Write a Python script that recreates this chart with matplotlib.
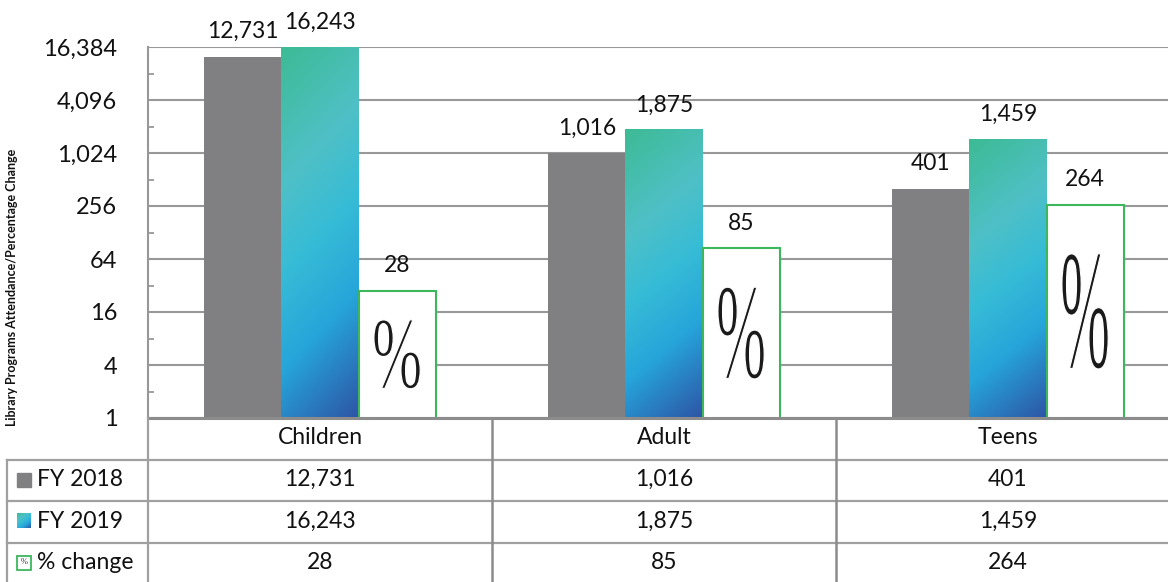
import numpy as np
import matplotlib
matplotlib.use("Agg")
import matplotlib.pyplot as plt
from matplotlib.patches import Rectangle
from matplotlib.lines import Line2D
from matplotlib.image import BboxImage
from matplotlib.transforms import TransformedBbox, Bbox, Affine2D, blended_transform_factory
from matplotlib.colors import LinearSegmentedColormap, Normalize
from matplotlib import patheffects
from matplotlib.ticker import FixedLocator, FuncFormatter

# ---------------- data ----------------
categories = ["Children", "Adult", "Teens"]
fy2018 = [12731, 1016, 401]
fy2019 = [16243, 1875, 1459]
pct_change = [28, 85, 264]
series_names = ["FY 2018", "FY 2019", "% change"]
y_ticks = [1, 4, 16, 64, 256, 1024, 4096, 16384]
y_minor = [2, 8, 32, 128, 512, 2048, 8192]
y_label = "Library Programs Attendance/Percentage Change"

# ---------------- style ----------------
FONT = "Lato"
plt.rcParams["font.family"] = [FONT, "DejaVu Sans"]
GRAY = "#808083"
GREEN = "#3db75c"
GRID = "#989898"
AXC = "#8c8c8c"
TXT = "#111111"
FS = 16.5
grad_cmap = LinearSegmentedColormap.from_list(
    "g", [(0.0, "#3dbb95"), (0.3, "#4fc0c6"), (0.5, "#37bcd6"),
          (0.72, "#26a5da"), (1.0, "#2d55a6")])

W, H = 1168, 582
fig = plt.figure(figsize=(W / 100, H / 100), dpi=100)
fig.patch.set_facecolor("white")


def fx(x):
    return x / W


def fy(y):
    return 1 - y / H


ax = fig.add_axes([fx(148), fy(418), fx(1180) - fx(148), fy(47) - fy(418)])
ax.set_yscale("log", base=2)
ax.set_ylim(1, 16384)
ax.set_xlim(-0.5, 2.5)
ax.set_axisbelow(True)
YMIN = ax.get_ylim()[0]

bw = 0.224
x = np.arange(len(categories))
b1 = ax.bar(x - bw, fy2018, bw, color=GRAY, zorder=2)
b2 = ax.bar(x, fy2019, bw, color="none", zorder=2)
b3 = ax.bar(x + bw, pct_change, bw, color="white", edgecolor=GREEN,
            linewidth=1.5, zorder=3)


def visible_bbox(p):
    """Bar extent in data coords, clipped at the log axis floor."""
    return Bbox.from_extents(p.get_x(), YMIN, p.get_x() + p.get_width(),
                             p.get_y() + p.get_height())


# gradient fill for FY 2019
nv, nu = 200, 40
vv, uu = np.mgrid[0:1:nv * 1j, 0:1:nu * 1j]
grad = 0.82 * vv + 0.18 * uu
for p in b2.patches:
    bb = TransformedBbox(visible_bbox(p), ax.transData)
    im = BboxImage(bb, cmap=grad_cmap, norm=Normalize(0, 1), origin="upper",
                   interpolation="bilinear", zorder=2)
    im.set_data(grad)
    im.set_clip_path(p)
    ax.add_artist(im)


# stretched, thin "%" glyph inside the %-change bars
class FitToBar(patheffects.AbstractPathEffect):
    def __init__(self, tbbox, wfrac=0.6, hfrac=0.54, thin=0.8):
        super().__init__()
        self.tbbox = tbbox
        self.wfrac = wfrac
        self.hfrac = hfrac
        self.thin = thin

    def draw_path(self, renderer, gc, tpath, affine, rgbFace=None):
        pb = self.tbbox
        gb = tpath.get_extents(affine)
        tw = pb.width * self.wfrac
        th = pb.height * self.hfrac
        cx = (pb.x0 + pb.x1) / 2
        cy = (pb.y0 + pb.y1) / 2
        tr = affine + Affine2D().translate(-(gb.x0 + gb.x1) / 2, -(gb.y0 + gb.y1) / 2) \
            .scale(tw / gb.width, th / gb.height).translate(cx, cy)
        renderer.draw_path(gc, tpath, tr, rgbFace)
        gc2 = renderer.new_gc()
        gc2.copy_properties(gc)
        gc2.set_foreground("white")
        gc2.set_linewidth(self.thin)
        renderer.draw_path(gc2, tpath, tr, None)
        gc2.restore()


for xi, v, p in zip(x, pct_change, b3.patches):
    tb = TransformedBbox(visible_bbox(p), ax.transData)
    ax.text(xi + bw, np.sqrt(v), "%", family="Liberation Serif", fontsize=40,
            ha="center", va="center", color="#1a1a1a", zorder=4,
            path_effects=[FitToBar(tb)])

# data labels
for cont, vals in ((b1, fy2018), (b2, fy2019), (b3, pct_change)):
    for p, v in zip(cont.patches, vals):
        ax.annotate(f"{v:,}", (p.get_x() + p.get_width() / 2, v),
                    xytext=(0, 25), textcoords="offset pixels",
                    ha="center", va="center", fontsize=FS, color=TXT,
                    annotation_clip=False, zorder=5)

# axes styling
ax.yaxis.set_major_locator(FixedLocator(y_ticks))
ax.yaxis.set_minor_locator(FixedLocator(y_minor))
ax.yaxis.set_major_formatter(FuncFormatter(lambda v, _: f"{int(round(v)):,}"))
ax.yaxis.set_minor_formatter(FuncFormatter(lambda v, _: ""))
ax.tick_params(axis="y", which="major", length=0, pad=22, labelsize=FS + 0.5,
               labelcolor=TXT)
ax.tick_params(axis="y", which="minor", direction="in", length=4, width=1.3,
               color=GRID)
ax.set_xticks([])
ax.grid(axis="y", which="major", color=GRID, linewidth=1.5)
for s in ("top", "right"):
    ax.spines[s].set_visible(False)
ax.spines["left"].set_color(GRID)
ax.spines["left"].set_linewidth(1.5)
ax.spines["bottom"].set_color(AXC)
ax.spines["bottom"].set_linewidth(2.2)
ax.spines["bottom"].set_zorder(6)

fig.text(fx(12), fy(287), y_label, rotation=90, ha="center", va="center",
         fontsize=9, fontweight="bold", color=TXT)

# ---------------- data table ----------------
bt = blended_transform_factory(ax.transData, fig.transFigure)
row_tops = [418, 460, 501, 543, 584]
lc = "#a0a0a0"
for yy in row_tops[1:4]:
    fig.add_artist(Line2D([fx(7), 1.0], [fy(yy), fy(yy)], color=lc, lw=1.6))
fig.add_artist(Line2D([fx(7), fx(7)], [fy(460), fy(584)], color=lc, lw=1.6))
fig.add_artist(Line2D([fx(148), fx(148)], [fy(418), fy(584)], color=lc, lw=1.6))
for bnd in x[:-1] + 0.5:
    fig.add_artist(Line2D([bnd, bnd], [fy(418), fy(584)], color=AXC, lw=1.8,
                          transform=bt))

row_centers = [(row_tops[i] + row_tops[i + 1]) / 2 - 1 for i in range(4)]
for xi, c in zip(x, categories):
    fig.text(xi, fy(row_centers[0]), c, transform=bt, ha="center", va="center",
             fontsize=FS, color=TXT)
for r, vals in enumerate((fy2018, fy2019, pct_change)):
    for xi, v in zip(x, vals):
        fig.text(xi, fy(row_centers[r + 1]), f"{v:,}", transform=bt,
                 ha="center", va="center", fontsize=FS, color=TXT)
    fig.text(fx(37), fy(row_centers[r + 1]), series_names[r], ha="left",
             va="center", fontsize=FS, color=TXT)

# legend keys
ks = 14
k1 = Rectangle((fx(17), fy(row_centers[1] + ks / 2)), fx(ks), fy(0) - fy(ks),
               transform=fig.transFigure, color=GRAY)
fig.add_artist(k1)
kim = BboxImage(TransformedBbox(Bbox.from_bounds(fx(17), fy(row_centers[2] + ks / 2),
                                                 fx(ks), fy(0) - fy(ks)),
                                fig.transFigure),
                cmap=grad_cmap, norm=Normalize(0, 1), origin="upper",
                interpolation="bilinear")
kim.set_data(0.6 * vv + 0.4 * uu)
fig.add_artist(kim)
k3 = Rectangle((fx(17), fy(row_centers[3] + ks / 2)), fx(ks), fy(0) - fy(ks),
               transform=fig.transFigure, facecolor="white", edgecolor=GREEN,
               lw=1.3)
fig.add_artist(k3)
fig.text(fx(24), fy(row_centers[3]), "%", family="Liberation Serif",
         fontsize=6, ha="center", va="center", color="#333333")

fig.savefig("out.png", dpi=100, facecolor="white")
